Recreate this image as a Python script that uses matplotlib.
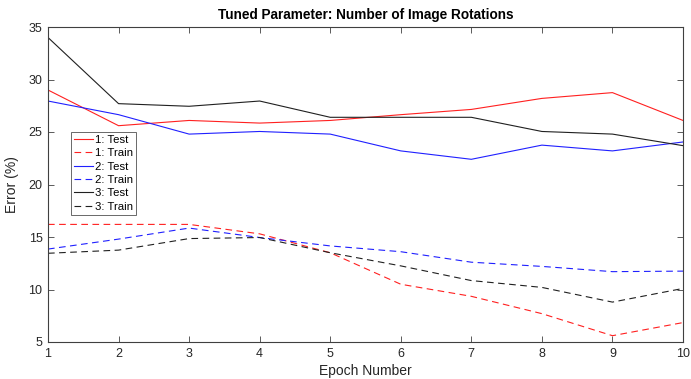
import matplotlib
matplotlib.use("Agg")
import matplotlib.pyplot as plt

plt.rcParams['font.family'] = ['Liberation Sans', 'DejaVu Sans']

epochs = [1, 2, 3, 4, 5, 6, 7, 8, 9, 10]

# error (%) per epoch
test_1 = [29.0, 25.6, 26.1, 25.85, 26.1, 26.65, 27.15, 28.2, 28.75, 26.1]
train_1 = [16.2, 16.2, 16.2, 15.3, 13.5, 10.5, 9.35, 7.7, 5.6, 6.85]
test_2 = [27.95, 26.65, 24.8, 25.05, 24.8, 23.2, 22.4, 23.75, 23.2, 24.05]
train_2 = [13.85, 14.8, 15.85, 14.95, 14.15, 13.6, 12.6, 12.2, 11.7, 11.75]
test_3 = [34.0, 27.7, 27.45, 27.95, 26.4, 26.4, 26.4, 25.05, 24.8, 23.7]
train_3 = [13.45, 13.75, 14.85, 14.95, 13.5, 12.25, 10.85, 10.2, 8.8, 10.1]

labels = ['1: Test', '1: Train', '2: Test', '2: Train', '3: Test', '3: Train']

fig = plt.figure(figsize=(6.91, 3.79), dpi=100)
ax = fig.add_axes([48 / 691, 1 - 342 / 379, 635 / 691, 315 / 379])

lw = 0.8
dash = (0, (6, 4))
ax.plot(epochs, test_1, color='#ff2020', lw=lw, label=labels[0])
ax.plot(epochs, train_1, color='#ff2020', lw=lw, ls=dash, label=labels[1])
ax.plot(epochs, test_2, color='#2020ff', lw=lw, label=labels[2])
ax.plot(epochs, train_2, color='#2020ff', lw=lw, ls=dash, label=labels[3])
ax.plot(epochs, test_3, color='#202020', lw=lw, label=labels[4])
ax.plot(epochs, train_3, color='#202020', lw=lw, ls=dash, label=labels[5])

ax.set_xlim(1, 10)
ax.set_ylim(5, 35)
ax.set_xticks(epochs)
ax.set_yticks([5, 10, 15, 20, 25, 30, 35])

frame = '#404040'
for s in ax.spines.values():
    s.set_color(frame)
    s.set_linewidth(0.8)
ax.tick_params(direction='in', top=True, right=True, length=4, width=0.6,
               colors=frame, labelsize=9, labelcolor='#262626', pad=4)

ax.set_xlabel('Epoch Number', fontsize=10, color='#262626', labelpad=3)
ax.set_ylabel('Error (%)', fontsize=10, color='#262626', labelpad=7)
ax.set_title('Tuned Parameter: Number of Image Rotations', fontsize=9.8,
             fontweight='bold', pad=6)

leg = ax.legend(loc='upper left', bbox_to_anchor=(0.037, 0.667), fontsize=8.2,
                frameon=True, fancybox=False, borderpad=0.25, labelspacing=0.3,
                handlelength=1.6, handletextpad=0.25, borderaxespad=0)
leg.get_frame().set_edgecolor('#262626')
leg.get_frame().set_linewidth(0.6)

fig.savefig('out.png', dpi=100)
